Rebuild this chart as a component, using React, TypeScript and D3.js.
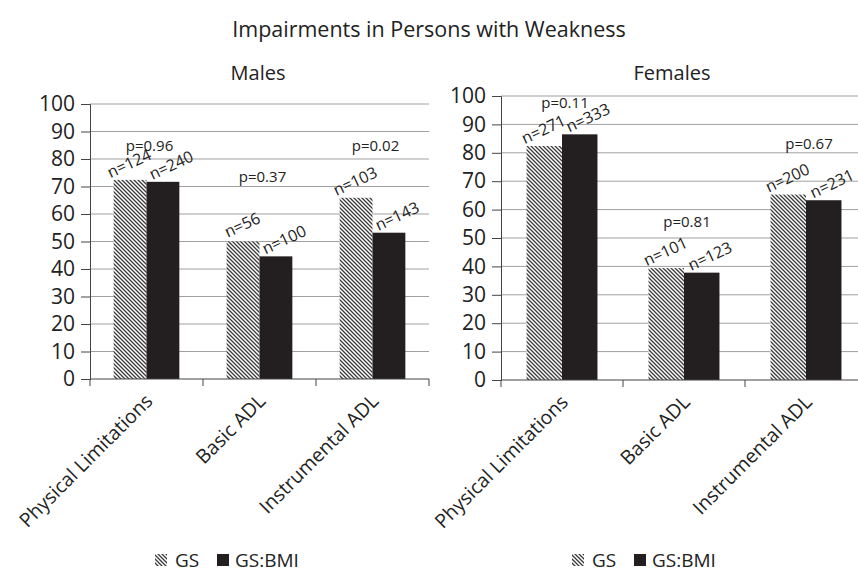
import React, { useEffect, useRef } from 'react';
import * as d3 from 'd3';

const categories = ['Physical Limitations', 'Basic ADL', 'Instrumental ADL'];
const series = ['GS', 'GS:BMI'];
const yTicks = [0, 10, 20, 30, 40, 50, 60, 70, 80, 90, 100];

const malesGS = [72.4, 50.0, 65.9];
const malesGSBMI = [71.7, 44.6, 53.2];
const malesNGS = [124, 56, 103];
const malesNGSBMI = [240, 100, 143];
const malesP = ['0.96', '0.37', '0.02'];
const malesPLevel = [85, 74, 85];

const femalesGS = [82.4, 39.4, 65.3];
const femalesGSBMI = [86.5, 37.8, 63.3];
const femalesNGS = [271, 101, 200];
const femalesNGSBMI = [333, 123, 231];
const femalesP = ['0.11', '0.81', '0.67'];
const femalesPLevel = [97.8, 56, 83.4];

const FONT = '"Open Sans", sans-serif';
const W = 858;
const H = 572;

const App = () => {
  const ref = useRef(null);

  useEffect(() => {
    const root = d3.select(ref.current);
    root.selectAll('*').remove();

    const svg = root
      .append('svg')
      .attr('width', W)
      .attr('height', H)
      .style('position', 'absolute')
      .style('left', 0)
      .style('top', 0)
      .style('background', '#fff')
      .style('font-family', FONT);

    const defs = svg.append('defs');
    const pat = defs
      .append('pattern')
      .attr('id', 'hatch')
      .attr('patternUnits', 'userSpaceOnUse')
      .attr('width', 4)
      .attr('height', 4);
    pat.append('rect').attr('width', 4).attr('height', 4).attr('fill', '#fff');
    pat
      .append('path')
      .attr('d', 'M-1,-1 L5,5 M-1,3 L1,5 M3,-1 L5,1')
      .attr('stroke', '#3a3a3a')
      .attr('stroke-width', 1.3);

    svg
      .append('text')
      .attr('x', 429)
      .attr('y', 37)
      .attr('text-anchor', 'middle')
      .attr('font-size', 21.5)
      .attr('fill', '#222')
      .text('Impairments in Persons with Weakness');

    const panels = [
      {
        title: 'Males',
        gs: malesGS,
        bmi: malesGSBMI,
        nGs: malesNGS,
        nBmi: malesNGSBMI,
        p: malesP,
        pLevel: malesPLevel,
        x0: 90,
        x1: 429,
        yTop: 104,
        yBot: 379,
        titleX: 258,
        legendX: 155,
      },
      {
        title: 'Females',
        gs: femalesGS,
        bmi: femalesGSBMI,
        nGs: femalesNGS,
        nBmi: femalesNGSBMI,
        p: femalesP,
        pLevel: femalesPLevel,
        x0: 501,
        x1: 867,
        yTop: 96,
        yBot: 380,
        titleX: 672,
        legendX: 572,
      },
    ];

    panels.forEach((pn) => {
      const x = d3.scaleBand().domain(categories).range([pn.x0, pn.x1]).padding(0);
      const xs = d3
        .scaleBand()
        .domain(series)
        .range([0, x.bandwidth()])
        .paddingInner(0)
        .paddingOuter(0.72);
      const y = d3.scaleLinear().domain([0, 100]).range([pn.yBot, pn.yTop]);

      const g = svg.append('g');

      g.append('text')
        .attr('x', pn.titleX)
        .attr('y', 80)
        .attr('text-anchor', 'middle')
        .attr('font-size', 20)
        .attr('fill', '#222')
        .text(pn.title);

      // gridlines
      g.selectAll('.grid')
        .data(yTicks.filter((t) => t > 0))
        .enter()
        .append('line')
        .attr('x1', pn.x0)
        .attr('x2', Math.min(pn.x1, W))
        .attr('y1', (d) => y(d))
        .attr('y2', (d) => y(d))
        .attr('stroke', '#a0a0a0')
        .attr('stroke-width', 1);

      // y axis
      const yAxis = g
        .append('g')
        .attr('transform', `translate(${pn.x0},0)`)
        .call(d3.axisLeft(y).tickValues(yTicks).tickSize(9).tickPadding(6));
      yAxis.select('.domain').attr('stroke', '#444');
      yAxis.selectAll('.tick line').attr('stroke', '#444');
      yAxis
        .selectAll('.tick text')
        .attr('font-size', 21)
        .attr('font-family', FONT)
        .attr('fill', '#222');

      // bars
      const rows = categories.map((c, i) => ({
        c,
        vals: [
          { s: 'GS', v: pn.gs[i], n: pn.nGs[i] },
          { s: 'GS:BMI', v: pn.bmi[i], n: pn.nBmi[i] },
        ],
        p: pn.p[i],
        pl: pn.pLevel[i],
      }));

      const grp = g
        .selectAll('.grp')
        .data(rows)
        .enter()
        .append('g')
        .attr('transform', (d) => `translate(${x(d.c)},0)`);

      grp
        .selectAll('rect')
        .data((d) => d.vals)
        .enter()
        .append('rect')
        .attr('x', (d) => xs(d.s))
        .attr('width', xs.bandwidth())
        .attr('y', (d) => y(d.v))
        .attr('height', (d) => y(0) - y(d.v))
        .attr('fill', (d) => (d.s === 'GS' ? 'url(#hatch)' : '#231f20'));

      grp
        .selectAll('.nlab')
        .data((d) => d.vals)
        .enter()
        .append('text')
        .attr('transform', (d) => {
          const cx = xs(d.s) + xs.bandwidth() / 2 + (d.s === 'GS' ? -1 : 8);
          const cy = y(d.v) - 17;
          return `translate(${cx},${cy}) rotate(-25)`;
        })
        .attr('text-anchor', 'middle')
        .attr('dominant-baseline', 'central')
        .attr('font-size', 16)
        .attr('fill', '#222')
        .text((d) => `n=${d.n}`);

      grp
        .append('text')
        .attr('x', x.bandwidth() / 2 + 3)
        .attr('y', (d) => y(d.pl))
        .attr('text-anchor', 'middle')
        .attr('dominant-baseline', 'central')
        .attr('font-size', 15)
        .attr('fill', '#222')
        .text((d) => `p=${d.p}`);

      // x axis
      g.append('line')
        .attr('x1', pn.x0)
        .attr('x2', Math.min(pn.x1, W))
        .attr('y1', y(0))
        .attr('y2', y(0))
        .attr('stroke', '#444')
        .attr('stroke-width', 1.2);
      g.selectAll('.xtick')
        .data(categories.map((c) => x(c)).concat([pn.x1]))
        .enter()
        .append('line')
        .attr('x1', (d) => d)
        .attr('x2', (d) => d)
        .attr('y1', y(0))
        .attr('y2', y(0) + 7)
        .attr('stroke', '#444');

      g.selectAll('.xlab')
        .data(categories)
        .enter()
        .append('text')
        .attr(
          'transform',
          (d) => `translate(${x(d) + x.bandwidth() / 2 + 2},${y(0) + 18}) rotate(-45)`
        )
        .attr('text-anchor', 'end')
        .attr('dominant-baseline', 'central')
        .attr('font-size', 19.5)
        .attr('fill', '#222')
        .text((d) => d);

      // legend
      const lg = g.append('g').attr('transform', `translate(${pn.legendX},567)`);
      lg.append('rect')
        .attr('x', 0)
        .attr('y', -13)
        .attr('width', 12)
        .attr('height', 12)
        .attr('fill', 'url(#hatch)');
      lg.append('text')
        .attr('x', 20)
        .attr('y', 0)
        .attr('font-size', 19)
        .attr('fill', '#222')
        .text(series[0]);
      lg.append('rect')
        .attr('x', 62)
        .attr('y', -13)
        .attr('width', 12)
        .attr('height', 12)
        .attr('fill', '#231f20');
      lg.append('text')
        .attr('x', 80)
        .attr('y', 0)
        .attr('font-size', 19)
        .attr('fill', '#222')
        .text(series[1]);
    });
  }, []);

  return <div ref={ref}></div>;
};

export default App;
